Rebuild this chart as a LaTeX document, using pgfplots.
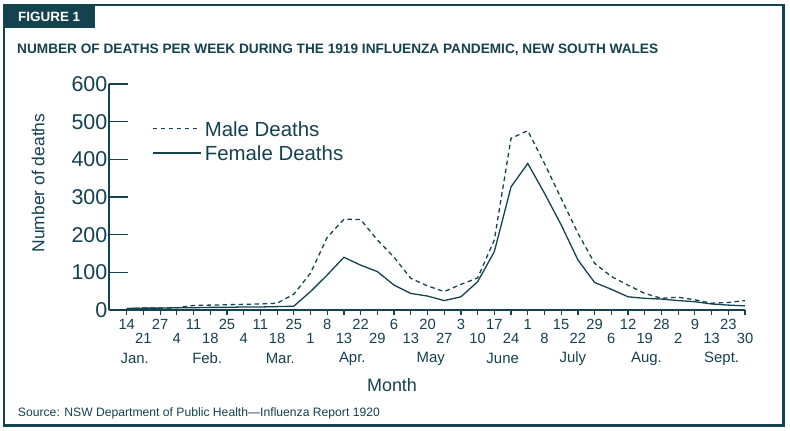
\documentclass[border=0pt]{standalone}
\usepackage{fontspec}
\setmainfont{Liberation Sans}
\usepackage{pgfplots}
\pgfplotsset{compat=1.18}
\definecolor{fig}{RGB}{20,66,78}
\begin{document}
\begin{tikzpicture}
\useasboundingbox (0,0) rectangle (790bp,431bp);
\fill[white] (0,0) rectangle (790bp,431bp);
\draw[fig, line width=2.3bp] (3.8bp,5.6bp) rectangle (783.6bp,425.9bp);
\fill[fig] (2.7bp,402.5bp) rectangle (95bp,427bp);
\node[anchor=west, text=white, font=\bfseries\fontsize{13.5}{16}\selectfont, inner sep=0pt] at (18bp,414.3bp) {FIGURE 1};
\node[anchor=west, text=fig, font=\bfseries\fontsize{13.7}{15}\selectfont, inner sep=0pt] at (17bp,381bp) {NUMBER OF DEATHS PER WEEK DURING THE 1919 INFLUENZA PANDEMIC, NEW SOUTH WALES};
\node[anchor=west, text=fig, font=\fontsize{12.2}{14}\selectfont, inner sep=0pt] at (17.8bp,18bp) {Source: NSW Department of Public Health—Influenza Report 1920};

\begin{axis}[
  at={(109bp,121bp)}, anchor=south west, scale only axis,
  width=636bp, height=226bp,
  xmin=-1.06, xmax=37, ymin=0, ymax=600,
  axis x line=bottom, axis y line=left,
  axis line style={-, fig, line width=1.3bp},
  xtick=\empty,
  ytick={0,100,...,600},
  tick align=inside, major tick length=19bp,
  ytick style={fig, line width=1.3bp},
  yticklabel style={font=\fontsize{21.5}{21.5}\selectfont, text=fig, inner sep=1.5bp},
  /pgf/number format/assume math mode=true,
  ylabel={Number of deaths},
  ylabel style={at={(axis description cs:-0.1116,0.562)}, anchor=center, font=\fontsize{17.5}{17.5}\selectfont, text=fig, inner sep=0pt},
  clip=false,
  legend image code/.code={\draw[#1] (0bp,0bp) -- (48bp,0bp);},
  legend style={at={(axis description cs:0.0676,0.836)}, anchor=north west, draw=none, fill=none, inner sep=0pt, outer sep=0pt,
    font=\fontsize{20.5}{24}\selectfont, text=fig, row sep=9.5bp, column sep=3.5bp,
    nodes={inner sep=0pt, text height=15bp, text depth=0pt}},
  legend cell align=left,
]
\addplot[fig, line width=1.3bp, dash pattern=on 4.5bp off 3.5bp] coordinates {
(0,4)(1,5)(2,5)(3,6)(4,12)(5,13)(6,14)(7,15)(8,16)(9,18)(10,42)(11,98)(12,193)(13,241)(14,240)(15,186)(16,140)(17,84)(18,64)(19,49)(20,68)(21,85)(22,186)(23,456)(24,476)(25,389)(26,296)(27,204)(28,124)(29,89)(30,66)(31,44)(32,31)(33,34)(34,27)(35,18)(36,20)(37,25)
};
\addlegendentry{Male Deaths}
\addplot[fig, line width=1.3bp] coordinates {
(0,4)(1,5)(2,5)(3,6)(4,6)(5,7)(6,7)(7,8)(8,8)(9,9)(10,10)(11,49)(12,93)(13,140)(14,119)(15,102)(16,66)(17,44)(18,37)(19,25)(20,35)(21,75)(22,155)(23,327)(24,389)(25,310)(26,226)(27,133)(28,73)(29,55)(30,35)(31,31)(32,29)(33,25)(34,22)(35,16)(36,13)(37,11)
};
\addlegendentry{Female Deaths}
\end{axis}

\begin{axis}[
  at={(109bp,121bp)}, anchor=south west, scale only axis,
  width=636bp, height=226bp,
  xmin=-1.06, xmax=37, ymin=0, ymax=600,
  axis x line=bottom, axis y line=none,
  axis line style={-, fig, line width=1.3bp},
  ytick=\empty,
  xtick={0,2,...,36},
  xticklabels={14,27,11,25,11,25,8,22,6,20,3,17,1,15,29,12,28,9,23},
  extra x ticks={1,3,...,37},
  extra x tick labels={21,4,18,4,18,1,13,29,13,27,10,24,8,22,6,19,2,13,30},
  tick align=outside, major tick length=5bp,
  xtick style={fig, line width=1.2bp},
  extra x tick style={tick style={fig, line width=1.2bp}, xticklabel style={yshift=-14bp}},
  xticklabel style={font=\fontsize{14.8}{14.8}\selectfont, text=fig, inner sep=1bp, yshift=-3bp},
  /pgf/number format/assume math mode=true,
  xlabel={Month},
  xlabel style={at={(axis description cs:0.445,0)}, anchor=center, yshift=-75bp, font=\fontsize{18}{18}\selectfont, text=fig, inner sep=0pt},
  clip=false,
]
\addplot[draw=none] coordinates {(0,0)};
\node[font=\fontsize{15}{15}\selectfont, text=fig, inner sep=0pt, yshift=-48.5bp] at (axis cs:0.48,0) {Jan.};
\node[font=\fontsize{15}{15}\selectfont, text=fig, inner sep=0pt, yshift=-48.5bp] at (axis cs:4.82,0) {Feb.};
\node[font=\fontsize{15}{15}\selectfont, text=fig, inner sep=0pt, yshift=-48.5bp] at (axis cs:9.19,0) {Mar.};
\node[font=\fontsize{15}{15}\selectfont, text=fig, inner sep=0pt, yshift=-48.5bp] at (axis cs:13.5,0) {Apr.};
\node[font=\fontsize{15}{15}\selectfont, text=fig, inner sep=0pt, yshift=-48.5bp] at (axis cs:18.2,0) {May};
\node[font=\fontsize{15}{15}\selectfont, text=fig, inner sep=0pt, yshift=-48.5bp] at (axis cs:22.5,0) {June};
\node[font=\fontsize{15}{15}\selectfont, text=fig, inner sep=0pt, yshift=-48.5bp] at (axis cs:26.7,0) {July};
\node[font=\fontsize{15}{15}\selectfont, text=fig, inner sep=0pt, yshift=-48.5bp] at (axis cs:31.1,0) {Aug.};
\node[font=\fontsize{15}{15}\selectfont, text=fig, inner sep=0pt, yshift=-48.5bp] at (axis cs:35.6,0) {Sept.};
\end{axis}
\end{tikzpicture}
\end{document}
